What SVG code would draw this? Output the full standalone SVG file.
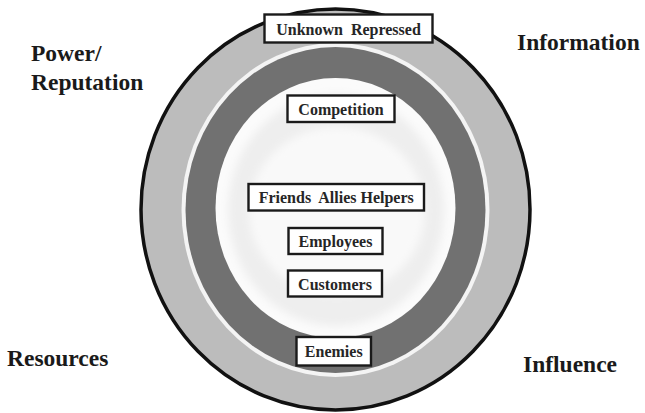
<svg xmlns="http://www.w3.org/2000/svg" width="645" height="413" viewBox="0 0 645 413">
  <style>
    .lbl { font-family: 'Liberation Serif', 'Times New Roman', Times, 'DejaVu Serif', serif; font-weight: 700; font-size: 23.5px; fill: #1a1a1a; }
    .box rect { fill: #ffffff; stroke: #1a1a1a; stroke-width: 2.4; }
    .box text { font-family: 'Liberation Serif', 'Times New Roman', Times, 'DejaVu Serif', serif; font-weight: 700; font-size: 16px; fill: #262626; text-anchor: middle; }
  </style>
  <defs>
    <filter id="soft" x="-20%" y="-20%" width="140%" height="140%">
      <feGaussianBlur stdDeviation="4"/>
    </filter>
  </defs>
  <rect width="645" height="413" fill="#ffffff"/>

  <!-- concentric rings -->
  <g id="rings">
    <ellipse cx="335.5" cy="209.5" rx="194.5" ry="200.5" fill="#bcbcbc" stroke="#111111" stroke-width="3.5"/>
    <ellipse cx="335.5" cy="210" rx="154" ry="167" fill="#f4f4f4"/>
    <ellipse cx="335.5" cy="210" rx="150" ry="163" fill="#717171"/>
    <ellipse cx="335.5" cy="208" rx="120" ry="130" fill="#fbfbfb"/>
    <ellipse cx="336" cy="210" rx="108" ry="116" fill="#eeeeee" filter="url(#soft)"/>
    <ellipse cx="337" cy="211" rx="88" ry="84" fill="#f9f9f9" filter="url(#soft)"/>
  </g>

  <!-- corner labels -->
  <g id="corner-labels">
    <text class="lbl" font-family="Liberation Serif" x="31" y="61">Power/</text>
    <text class="lbl" font-family="Liberation Serif" x="31" y="90">Reputation</text>
    <text class="lbl" font-family="Liberation Serif" x="517" y="50">Information</text>
    <text class="lbl" font-family="Liberation Serif" x="7" y="366">Resources</text>
    <text class="lbl" font-family="Liberation Serif" x="523" y="372">Influence</text>
  </g>

  <!-- labelled boxes -->
  <g id="unknown-repressed" class="box">
    <rect x="264.5" y="14.5" width="168" height="28"/>
    <text x="348.5" y="35" xml:space="preserve">Unknown  Repressed</text>
  </g>
  <g id="competition" class="box">
    <rect x="287.5" y="95.5" width="107" height="26.5"/>
    <text x="341" y="115">Competition</text>
  </g>
  <g id="friends-allies-helpers" class="box">
    <rect x="248.5" y="184" width="175.5" height="26.5"/>
    <text x="336.25" y="203" xml:space="preserve">Friends  Allies Helpers</text>
  </g>
  <g id="employees" class="box">
    <rect x="288.5" y="228" width="94" height="26"/>
    <text x="335.5" y="247">Employees</text>
  </g>
  <g id="customers" class="box">
    <rect x="288" y="270.5" width="94" height="26"/>
    <text x="335" y="289.5">Customers</text>
  </g>
  <g id="enemies" class="box">
    <rect x="296.5" y="337" width="74.5" height="28.5"/>
    <text x="333.75" y="357">Enemies</text>
  </g>
</svg>
